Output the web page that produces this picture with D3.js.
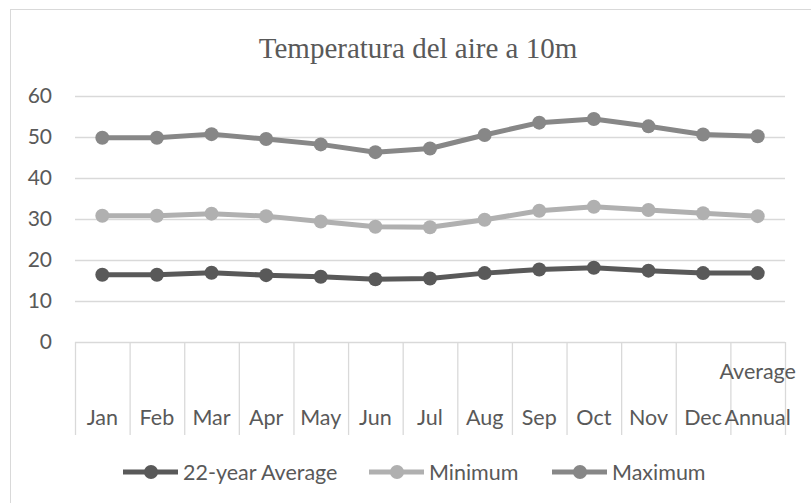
<!DOCTYPE html>
<html><head><meta charset="utf-8">
<script src="https://cdn.jsdelivr.net/npm/d3@7"></script>
<style>body{margin:0;background:#fff}svg{display:block}</style>
</head><body>
<svg id="c" width="811" height="503"></svg>
<script>
const categories = ["Jan","Feb","Mar","Apr","May","Jun","Jul","Aug","Sep","Oct","Nov","Dec","Average Annual"];
const avg22 = [16.4,16.4,16.9,16.3,15.9,15.3,15.5,16.8,17.7,18.1,17.4,16.8,16.8];
const minimum = [30.8,30.8,31.3,30.7,29.4,28.1,28.0,29.8,32.0,33.0,32.2,31.4,30.7];
const maximum = [49.8,49.8,50.7,49.5,48.2,46.3,47.2,50.5,53.5,54.4,52.6,50.6,50.2];
const yTicks = [0,10,20,30,40,50,60];
const seriesNames = ["22-year Average","Minimum","Maximum"];
const title = "Temperatura del aire a 10m";

const colors = ["#595959","#b0b0b0","#878787"];
const series = [avg22, minimum, maximum];

const svg = d3.select("#c");
const sans = "Lato, 'Open Sans', sans-serif";
const W = 811, H = 503;
const plot = {left:75, right:785, top:96, bottom:342};

svg.append("rect").attr("x",10.5).attr("y",9.5).attr("width",W).attr("height",H)
  .attr("fill","#fff").attr("stroke","#d9d9d9").attr("stroke-width",1);

svg.append("text").attr("x",418).attr("y",58).attr("text-anchor","middle")
  .attr("font-family","'Liberation Serif','Times New Roman',serif").attr("font-size",29)
  .attr("fill","#595959").text(title);

const x = d3.scaleBand().domain(categories).range([plot.left, plot.right]);
const y = d3.scaleLinear().domain([0,60]).range([plot.bottom, plot.top]);

// gridlines
svg.append("g").selectAll("line").data(yTicks.filter(d=>d>0)).join("line")
  .attr("x1",plot.left).attr("x2",plot.right)
  .attr("y1",d=>y(d)+0.5).attr("y2",d=>y(d)+0.5)
  .attr("stroke","#d9d9d9").attr("stroke-width",1.3);

// y labels
svg.append("g").selectAll("text").data(yTicks).join("text")
  .attr("x",52).attr("y",d=>y(d)).attr("dy","0.35em").attr("text-anchor","end")
  .attr("font-family",sans).attr("font-size",21).attr("fill","#595959").text(d=>d);

// category axis
svg.append("line").attr("x1",plot.left).attr("x2",plot.right)
  .attr("y1",plot.bottom+0.5).attr("y2",plot.bottom+0.5).attr("stroke","#d9d9d9").attr("stroke-width",1.3);
const bounds = categories.map(c=>x(c)).concat([plot.right]);
svg.append("g").selectAll("line").data(bounds).join("line")
  .attr("x1",d=>d+0.5).attr("x2",d=>d+0.5).attr("y1",plot.bottom).attr("y2",435)
  .attr("stroke","#d9d9d9").attr("stroke-width",1.3);

const catG = svg.append("g").attr("font-family",sans).attr("font-size",21.5).attr("fill","#595959").attr("text-anchor","middle");
categories.forEach(c=>{
  const cx = x(c)+x.bandwidth()/2;
  const parts = c.split(" ");
  if(parts.length===1){
    catG.append("text").attr("x",cx).attr("y",425).text(c);
  } else {
    catG.append("text").attr("x",cx).attr("y",379).text(parts[0]);
    catG.append("text").attr("x",cx).attr("y",425).text(parts[1]);
  }
});

// lines
const line = d3.line().x((d,i)=>x(categories[i])+x.bandwidth()/2).y(d=>y(d));
series.forEach((s,k)=>{
  const g = svg.append("g");
  g.append("path").datum(s).attr("d",line).attr("fill","none")
    .attr("stroke",colors[k]).attr("stroke-width",5).attr("stroke-linejoin","round");
  g.selectAll("circle").data(s).join("circle")
    .attr("cx",(d,i)=>x(categories[i])+x.bandwidth()/2).attr("cy",d=>y(d)).attr("r",7)
    .attr("fill",colors[k]);
});

// legend
const legX = [123, 369, 552];
const legY = 472;
seriesNames.forEach((n,k)=>{
  const g = svg.append("g").attr("transform",`translate(${legX[k]},${legY})`);
  g.append("line").attr("x1",0).attr("x2",55).attr("y1",0).attr("y2",0)
    .attr("stroke",colors[k]).attr("stroke-width",5);
  g.append("circle").attr("cx",28).attr("cy",0).attr("r",7).attr("fill",colors[k]);
  g.append("text").attr("x",60).attr("y",0).attr("dy","0.35em")
    .attr("font-family",sans).attr("font-size",21.5).attr("fill","#595959").text(n);
});
</script>
</body></html>
